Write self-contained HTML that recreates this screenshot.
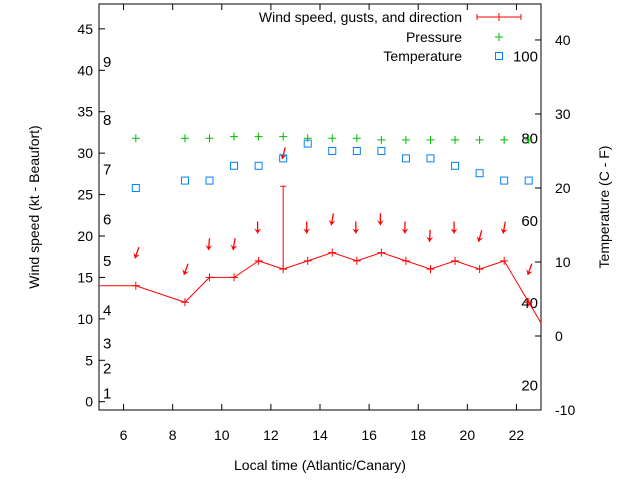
<!DOCTYPE html>
<html><head><meta charset="utf-8"><style>
body{margin:0;background:#fff}
svg text{font-family:"Liberation Sans",sans-serif;font-size:14px;fill:#000}
</style></head><body>
<svg id="c" width="640" height="480"></svg>
<script>
const hours=[6.5,8.5,9.5,10.5,11.5,12.5,13.5,14.5,15.5,16.5,17.5,18.5,19.5,20.5,21.5,22.5];
const windSpeed=[14,12,15,15,17,16,17,18,17,18,17,16,17,16,17,12];
const gusts=[null,null,null,null,null,26,null,null,null,null,null,null,null,null,null,null];
const windDir=[20,20,5,10,0,15,0,10,0,0,0,3,0,15,10,20];
const pressure=[31.8,31.8,31.8,32,32,32,31.8,31.8,31.8,31.6,31.6,31.6,31.6,31.6,31.6,31.6];
const temperature=[20,21,21,23,23,24,26,25,25,25,24,24,23,22,21,21];
const xTicks=[6,8,10,12,14,16,18,20,22];
const yTicks=[0,5,10,15,20,25,30,35,40,45];
const y2Ticks=[-10,0,10,20,30,40];
const beaufort=[[1,1],[2,4],[3,7],[4,11],[5,17],[6,22],[7,28],[8,34],[9,41]];
const fahr=[20,40,60,80,100];
const L=99,R=541,T=4,B=410;
const X=v=>L+(v-5)/18*(R-L);
const Y=v=>B-(v+1)/49*(B-T);
const Y2=v=>B-(v+10)/54.86*(B-T);
const svg=document.getElementById('c');const NS='http://www.w3.org/2000/svg';
function el(t,a,p,name){const e=document.createElementNS(NS,t);for(const k in a)e.setAttribute(k,a[k]);


(p||svg).appendChild(e);return e;}
function txt(x,y,s,anchor,name,p){const t=el('text',{x:x,y:y,'text-anchor':anchor||'start'},p,name);t.textContent=s;return t;}
el('rect',{x:L,y:T,width:R-L,height:B-T,fill:'none',stroke:'#000','stroke-width':1},null,'plot-frame');
xTicks.forEach(v=>{const x=X(v);el('line',{x1:x,y1:B,x2:x,y2:B-6,stroke:'#000'},null,'x-tick');el('line',{x1:x,y1:T,x2:x,y2:T+6,stroke:'#000'},null,'x-tick-top');txt(x,440,String(v),'middle','x-tick-label');});
yTicks.forEach(v=>{const y=Y(v);el('line',{x1:L,y1:y,x2:L+6,y2:y,stroke:'#000'},null,'y-tick');txt(93,y+5,String(v),'end','y-tick-label');});
y2Ticks.forEach(v=>{const y=Y2(v);el('line',{x1:R,y1:y,x2:R-6,y2:y,stroke:'#000'},null,'y2-tick');txt(555,y+5,String(v),'start','y2-tick-label');});
beaufort.forEach(b=>{const t=txt(103,Y(b[1])+5,String(b[0]),'start','beaufort-label');t.style.fontSize='15px';});
fahr.forEach(f=>{const t=txt(538,Y2((f-32)/1.8)+5,String(f),'end','fahrenheit-label');t.style.fontSize='15px';});
const cl=el('clipPath',{id:'cp'},null,'clip');el('rect',{x:L,y:T,width:R-L,height:B-T},cl,'clip-rect');
const g=el('g',{'clip-path':'url(#cp)'},null,'series-group');
const pts=[[4.5,14]].concat(hours.map((h,i)=>[h,windSpeed[i]])).concat([[23.5,7]]);
el('polyline',{points:pts.map(p=>X(p[0])+','+Y(p[1])).join(' '),fill:'none',stroke:'#f00','stroke-width':1},g,'wind-line');
hours.forEach((h,i)=>{const x=X(h),y=Y(windSpeed[i]);
el('path',{d:`M${x-4},${y}h8M${x},${y-4}v8`,stroke:'#f00'},g,'wind-point');
let top=windSpeed[i];
if(gusts[i]!=null){const yg=Y(gusts[i]);el('path',{d:`M${x},${y}V${yg}M${x-3},${yg}h6`,stroke:'#f00'},g,'gust-bar');top=gusts[i];}
const tip=Y(top+3.3),a=windDir[i]*Math.PI/180,len=12;
const tx=x-1,bx=tx+Math.sin(a)*len,by=tip-Math.cos(a)*len;
el('line',{x1:bx,y1:by,x2:tx,y2:tip,stroke:'#f00','stroke-width':1.3},g,'wind-direction-arrow');
const ux=(tx-bx)/len,uy=(tip-by)/len,px=-uy,py=ux;
el('polygon',{points:`${tx},${tip} ${tx-ux*5+px*3.5},${tip-uy*5+py*3.5} ${tx-ux*3},${tip-uy*3} ${tx-ux*5-px*3.5},${tip-uy*5-py*3.5}`,fill:'#f00'},g,'wind-arrow-head');
const pp=Y(pressure[i]);el('path',{d:`M${x-4},${pp}h8M${x},${pp-4}v8`,stroke:'#0b0'},g,'pressure-point');
const ty=Y2(temperature[i]);el('rect',{x:x-3.5,y:ty-3.5,width:7,height:7,fill:'none',stroke:'#0080ff'},g,'temperature-point');
});
txt(462,22,'Wind speed, gusts, and direction','end','legend-wind');
el('path',{d:'M477,17h44M477,14v6M521,14v6M499,13v8',stroke:'#f00'},null,'legend-wind-sample');
txt(462,42,'Pressure','end','legend-pressure');
el('path',{d:'M495,37h8M499,33v8',stroke:'#0b0'},null,'legend-pressure-sample');
txt(462,61,'Temperature','end','legend-temperature');
el('rect',{x:495.5,y:52.5,width:7,height:7,fill:'none',stroke:'#0080ff'},null,'legend-temperature-sample');
txt(320,470,'Local time (Atlantic/Canary)','middle','x-axis-title');
const yt=txt(0,0,'Wind speed (kt - Beaufort)','middle','y-axis-title');yt.setAttribute('transform','translate(39,207) rotate(-90)');
const yt2=txt(0,0,'Temperature (C - F)','middle','y2-axis-title');yt2.setAttribute('transform','translate(609,207) rotate(-90)');
</script></body></html>
